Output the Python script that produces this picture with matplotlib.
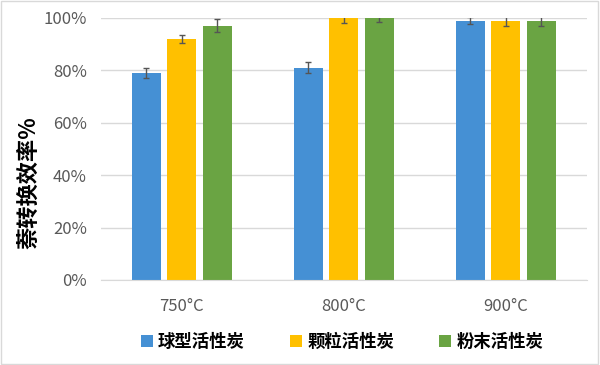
import numpy as np
import matplotlib.pyplot as plt

plt.rcParams['font.family'] = ['Noto Sans CJK SC', 'DejaVu Sans']

temps = ["750°C", "800°C", "900°C"]
series = ["球型活性炭", "颗粒活性炭", "粉末活性炭"]
spherical = [0.79, 0.81, 0.99]
granular = [0.92, 1.00, 0.99]
powder = [0.97, 1.00, 0.99]
err_sph = [0.02, 0.02, 0.015]
err_gra = [0.015, 0.02, 0.02]
err_pow = [0.025, 0.015, 0.02]
colors = ["#4590d4", "#ffc000", "#6aa443"]

fig = plt.figure(figsize=(6, 3.65), dpi=100)
ax = fig.add_axes([0.168, 0.233, 0.81, 0.718])

x = np.arange(len(temps))
w = 0.18
for i, (vals, errs) in enumerate([(spherical, err_sph), (granular, err_gra), (powder, err_pow)]):
    ax.bar(x + (i - 1) * 0.22, vals, w, color=colors[i], label=series[i], zorder=2,
           yerr=errs, error_kw=dict(ecolor="#555555", elinewidth=1, capsize=2.5, capthick=1))

ax.set_xlim(-0.5, 2.5)
ax.set_ylim(0, 1.0)
ax.set_yticks(np.arange(0, 1.01, 0.2))
ax.set_yticklabels([f"{int(v * 100)}%" for v in np.arange(0, 1.01, 0.2)])
ax.set_xticks(x)
ax.set_xticklabels(temps)
ax.tick_params(colors="#595959", labelsize=12, length=0, pad=10)
ax.tick_params(axis="x", pad=13)
ax.yaxis.grid(True, color="#d9d9d9", linewidth=1, zorder=0)
for s in ["top", "right", "left"]:
    ax.spines[s].set_visible(False)
ax.spines["bottom"].set_color("#d9d9d9")
ax.set_ylabel("萘转换效率%", fontsize=16, fontweight="bold", color="black")
ax.yaxis.set_label_coords(-0.125, 0.37)

fig.legend(loc="lower center", bbox_to_anchor=(0.57, -0.005), ncol=3, frameon=False,
           handlelength=0.7, handleheight=0.7, handletextpad=0.3, columnspacing=2.6,
           prop={"size": 12.5, "weight": "bold"})

fig.patches.append(plt.Rectangle((0.002, 0.003), 0.995, 0.994, transform=fig.transFigure,
                                 fill=False, edgecolor="#d9d9d9", linewidth=1))

fig.savefig("out.png", dpi=100)
